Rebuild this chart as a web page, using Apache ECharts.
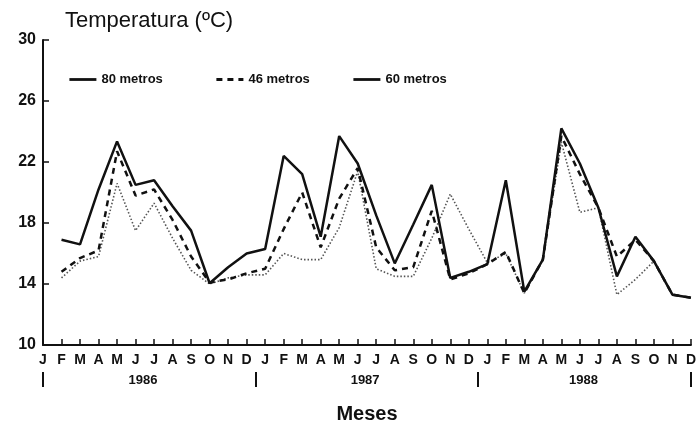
<!DOCTYPE html>
<html>
<head>
<meta charset="utf-8">
<script src="https://cdn.jsdelivr.net/npm/echarts@6/dist/echarts.min.js"></script>
<style>
html,body{margin:0;padding:0;background:#fff;}
#chart{width:699px;height:429px;}
</style>
</head>
<body>
<div id="chart"></div>
<script>
// Categories: months Jan 1986 .. Dec 1988
const months = ['J','F','M','A','M','J','J','A','S','O','N','D',
                'J','F','M','A','M','J','J','A','S','O','N','D',
                'J','F','M','A','M','J','J','A','S','O','N','D'];
const years = ['1986','1987','1988'];
const yTicks = [10, 14, 18, 22, 26, 30];
const seriesNames = ['80 metros', '46 metros', '60 metros'];

// Temperature (ºC) per month; first month has no measurement
const t80 = [null, 16.9, 16.6, 20.2, 23.35, 20.5, 20.8, 19.1, 17.5, 14.05, 15.1, 16.0,
             16.3, 22.4, 21.2, 17.1, 23.7, 21.9, 18.5, 15.35, 17.9, 20.5, 14.4, 14.8,
             15.3, 20.8, 13.5, 15.6, 24.2, 21.9, 19.0, 14.5, 17.1, 15.5, 13.3, 13.1];
const t46 = [null, 14.8, 15.7, 16.2, 22.7, 19.8, 20.2, 18.2, 15.8, 14.1, 14.3, 14.7,
             15.0, 17.6, 20.0, 16.4, 19.6, 21.6, 16.4, 14.9, 15.1, 18.8, 14.3, 14.7,
             15.3, 16.1, 13.4, 15.6, 23.7, 21.2, 19.0, 15.8, 16.9, 15.5, 13.3, 13.1];
const t60 = [null, 14.4, 15.5, 15.8, 20.6, 17.5, 19.3, 17.0, 14.9, 14.0, 14.4, 14.6,
             14.6, 16.0, 15.6, 15.6, 17.7, 21.4, 15.0, 14.5, 14.5, 17.0, 19.9, 17.6,
             15.4, 16.0, 13.4, 15.6, 23.3, 18.7, 19.0, 13.3, 14.3, 15.5, 13.3, 13.1];

const FONT = 'Liberation Sans, Arial, sans-serif';
const INK = '#111';
const yearLabelPos = [5.4, 17.4, 29.2];
const legendLeft = [63, 210, 347];
const legendLine = [
  {type: 'solid', color: INK, width: 2.8},
  {type: [6, 5], color: INK, width: 2.8},
  {type: 'solid', color: INK, width: 2.8}
];

const chart = echarts.init(document.getElementById('chart'), null, {renderer: 'canvas'});
chart.setOption({
  animation: false,
  backgroundColor: '#fff',
  title: {
    text: 'Temperatura (ºC)',
    left: 60, top: 5,
    textStyle: {fontFamily: FONT, fontSize: 22, fontWeight: 'normal', color: INK}
  },
  legend: seriesNames.map((n, i) => ({
    left: legendLeft[i], top: 68,
    itemWidth: 27, itemHeight: 10,
    itemStyle: {opacity: 0},
    textStyle: {fontFamily: FONT, fontSize: 13, fontWeight: 'bold', color: INK},
    data: [{name: n, lineStyle: Object.assign({opacity: 1}, legendLine[i])}]
  })),
  grid: {left: 43, right: 7, top: 40, bottom: 79, containLabel: false},
  xAxis: [{
    type: 'category',
    data: months,
    boundaryGap: false,
    axisLine: {lineStyle: {color: INK, width: 2}},
    axisTick: {inside: true, length: 6, interval: 0, lineStyle: {color: INK, width: 1.5}},
    axisLabel: {interval: 0, fontFamily: FONT, fontSize: 14, fontWeight: 'bold', color: INK, margin: 8},
    splitLine: {show: false},
    name: 'Meses',
    nameLocation: 'middle',
    nameGap: 59,
    nameTextStyle: {fontFamily: FONT, fontSize: 20, fontWeight: 'bold', color: INK}
  }, {
    type: 'value',
    min: 0, max: months.length - 1,
    position: 'bottom',
    offset: 27,
    axisLine: {show: false},
    axisTick: {show: true, customValues: [0, 11.5, 23.5, 35], length: 15, lineStyle: {color: INK, width: 2}},
    axisLabel: {
      customValues: yearLabelPos,
      margin: 2,
      fontFamily: FONT, fontSize: 13, fontWeight: 'bold', color: INK,
      formatter: function (v) {
        const i = yearLabelPos.findIndex(p => Math.abs(p - v) < 0.01);
        return i >= 0 ? years[i] : '';
      }
    },
    splitLine: {show: false}
  }],
  yAxis: {
    type: 'value',
    min: yTicks[0], max: yTicks[yTicks.length - 1], interval: 4,
    axisLine: {show: true, lineStyle: {color: INK, width: 2}},
    axisTick: {show: true, inside: true, length: 6, lineStyle: {color: INK, width: 1.5}},
    axisLabel: {fontFamily: FONT, fontSize: 16, fontWeight: 'bold', color: INK, margin: 7},
    splitLine: {show: false}
  },
  series: [{
    name: seriesNames[0], type: 'line', data: t80, symbol: 'none', xAxisIndex: 0,
    lineStyle: {color: INK, width: 2.5, type: 'solid'}, itemStyle: {color: INK}, z: 3
  }, {
    name: seriesNames[1], type: 'line', data: t46, symbol: 'none', xAxisIndex: 0,
    lineStyle: {color: INK, width: 2.5, type: [6, 5]}, itemStyle: {color: INK}, z: 2
  }, {
    name: seriesNames[2], type: 'line', data: t60, symbol: 'none', xAxisIndex: 0,
    lineStyle: {color: '#555', width: 1.6, type: [1.5, 2]}, itemStyle: {color: '#555'}, z: 1
  }]
});
</script>
</body>
</html>
